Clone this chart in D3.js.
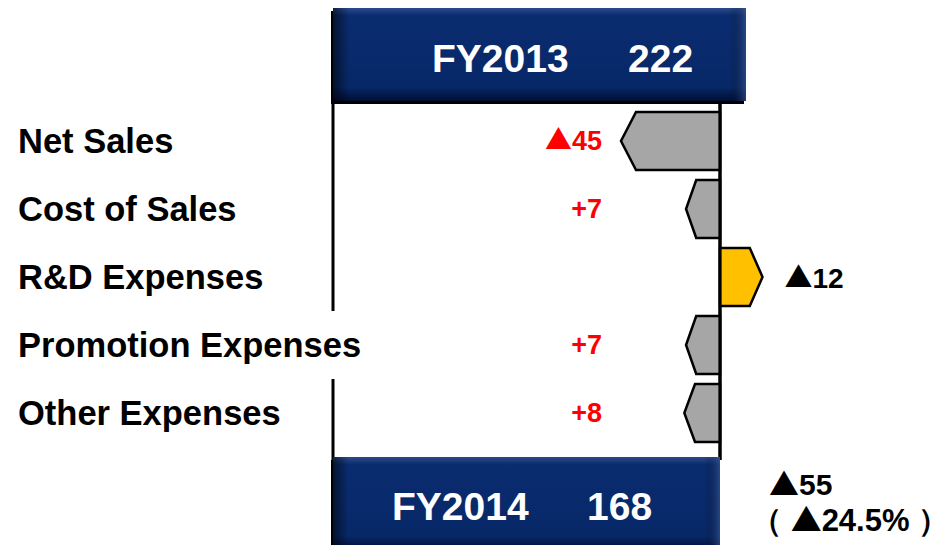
<!DOCTYPE html>
<html>
<head>
<meta charset="utf-8">
<script src="https://cdn.jsdelivr.net/npm/d3@7"></script>
<style>
  body { margin: 0; background: #fff; }
  text { font-family: 'Liberation Sans', Arial, sans-serif; font-weight: bold; }
  .tri { font-family: 'Noto Sans CJK JP', sans-serif; font-weight: normal; }
</style>
</head>
<body>
<div id="chart"></div>
<script>
// operating income bridge FY2013 -> FY2014
var categories = ['Net Sales', 'Cost of Sales', 'R&D Expenses', 'Promotion Expenses', 'Other Expenses']
var changes = [-45, 7, -12, 7, 8]
var barSide = ['left', 'left', 'right', 'left', 'left']
var highlight = [false, false, true, false, false]
var startYear = 'FY2013'
var startValue = 222
var endYear = 'FY2014'
var endValue = 168
var totalChange = -55
var totalPct = -24.5

function fmt(v) {
  return v < 0 ? '\u25B2' + Math.abs(v) : '+' + v
}

// write a label, putting the triangle in a font that draws it large
function setLabel(sel, str) {
  sel.each(function (d) {
    var t = d3.select(this)
    var s = typeof str == 'function' ? str(d) : str
    var parts = s.split(/(\u25B2)/).filter(p => p.length)
    parts.forEach(function (p) {
      var ts = t.append('tspan').text(p)
      if (p == '\u25B2') ts.attr('class', 'tri')
    })
  })
}

var width = 950
var height = 545
var baseX = 720
var leftX = 333
var barH = 58

var svg = d3.select('#chart')
  .append('svg')
  .attr('width', width)
  .attr('height', height)

var defs = svg.append('defs')
var vg = defs.append('linearGradient').attr('id', 'navyV').attr('x1', 0).attr('y1', 0).attr('x2', 0).attr('y2', 1)
vg.append('stop').attr('offset', '0%').attr('stop-color', '#2c4b8c')
vg.append('stop').attr('offset', '8%').attr('stop-color', '#0a2c70')
vg.append('stop').attr('offset', '85%').attr('stop-color', '#072867')
vg.append('stop').attr('offset', '100%').attr('stop-color', '#010d33')
var hg = defs.append('linearGradient').attr('id', 'navyH').attr('x1', 0).attr('y1', 0).attr('x2', 1).attr('y2', 0)
hg.append('stop').attr('offset', '0%').attr('stop-color', '#000').attr('stop-opacity', 0.55)
hg.append('stop').attr('offset', '4%').attr('stop-color', '#000').attr('stop-opacity', 0)
hg.append('stop').attr('offset', '96%').attr('stop-color', '#000').attr('stop-opacity', 0)
hg.append('stop').attr('offset', '100%').attr('stop-color', '#3a5a9a').attr('stop-opacity', 0.6)

// scales
var yScale = d3.scalePoint().domain(categories).range([141, 413])
var widthScale = d3.scaleLinear().domain([0, 45]).range([22, 99])

var rows = categories.map(function (c, i) {
  return { name: c, value: changes[i], side: barSide[i], hl: highlight[i] }
})

// frame lines
svg.append('line').attr('x1', leftX).attr('x2', leftX).attr('y1', 100).attr('y2', 460)
  .attr('stroke', '#000').attr('stroke-width', 3)
svg.append('line').attr('x1', baseX).attr('x2', baseX).attr('y1', 100).attr('y2', 460)
  .attr('stroke', '#000').attr('stroke-width', 3)

// category labels with white backing (breaks the frame line)
var labels = svg.selectAll('.cat')
  .data(rows)
  .enter()
  .append('g')
  .attr('class', 'cat')
labels.append('rect').attr('class', 'bg').attr('fill', '#fff')
labels.append('text')
  .attr('x', 18)
  .attr('y', d => yScale(d.name) + 12)
  .attr('font-size', 34.5)
  .attr('fill', '#000')
  .text(d => d.name)
labels.each(function () {
  var g = d3.select(this)
  var bb = g.select('text').node().getBBox()
  var c = yScale(g.datum().name)
  g.select('rect').attr('x', 0).attr('y', c - 34).attr('width', bb.x + bb.width + 4).attr('height', 68)
})

// arrow bars
function barPoints(d) {
  var w = widthScale(Math.abs(d.value))
  var tip = Math.min(15, w * 0.3)
  var c = yScale(d.name)
  var s = d.side == 'left' ? -1 : 1
  return [
    [baseX, c - barH / 2],
    [baseX + s * (w - tip), c - barH / 2],
    [baseX + s * w, c],
    [baseX + s * (w - tip), c + barH / 2],
    [baseX, c + barH / 2]
  ]
}
svg.selectAll('.bar')
  .data(rows)
  .enter()
  .append('path')
  .attr('class', 'bar')
  .attr('d', d => d3.line()(barPoints(d)) + 'Z')
  .attr('fill', d => d.hl ? '#ffc000' : '#a6a6a6')
  .attr('stroke', '#000')
  .attr('stroke-width', 2.5)
  .attr('stroke-linejoin', 'miter')

// redraw baseline on top of bars
svg.append('line').attr('x1', baseX).attr('x2', baseX).attr('y1', 100).attr('y2', 460)
  .attr('stroke', '#000').attr('stroke-width', 3)

// value labels
svg.selectAll('.val')
  .data(rows)
  .enter()
  .append('text')
  .attr('class', 'val')
  .attr('x', d => d.side == 'left' ? 602 : baseX + widthScale(Math.abs(d.value)) + 22)
  .attr('y', d => yScale(d.name) + (d.side == 'left' ? 9 : 11))
  .attr('text-anchor', d => d.side == 'left' ? 'end' : 'start')
  .attr('font-size', d => d.side == 'left' ? 27 : 28)
  .attr('fill', d => d.side == 'left' ? '#ff0000' : '#000')
  .call(setLabel, d => fmt(d.value))

// year boxes
function yearBox(x, y, w, h, year, value, tx, vx, by) {
  var g = svg.append('g')
  g.append('rect').attr('x', x - 2).attr('y', y + 3).attr('width', w).attr('height', h).attr('fill', '#000')
  g.append('rect').attr('x', x).attr('y', y).attr('width', w).attr('height', h).attr('fill', 'url(#navyV)')
  g.append('rect').attr('x', x).attr('y', y).attr('width', w).attr('height', h).attr('fill', 'url(#navyH)')
  g.append('text').attr('x', tx).attr('y', by).attr('font-size', 39).attr('fill', '#fff').text(year)
  g.append('text').attr('x', vx).attr('y', by).attr('font-size', 39).attr('fill', '#fff').text(value)
}
yearBox(leftX, 8, 413, 93, startYear, startValue, 432, 628, 72)
yearBox(leftX, 457, 387, 93, endYear, endValue, 392, 587, 520)

// total change
svg.append('text').attr('x', 769).attr('y', 495).attr('font-size', 30).attr('fill', '#000')
  .call(setLabel, fmt(totalChange))
svg.append('text').attr('x', 751).attr('y', 531).attr('font-size', 31).attr('fill', '#000')
  .call(setLabel, '\uFF08 ' + fmt(totalPct) + '% \uFF09')
</script>
</body>
</html>
